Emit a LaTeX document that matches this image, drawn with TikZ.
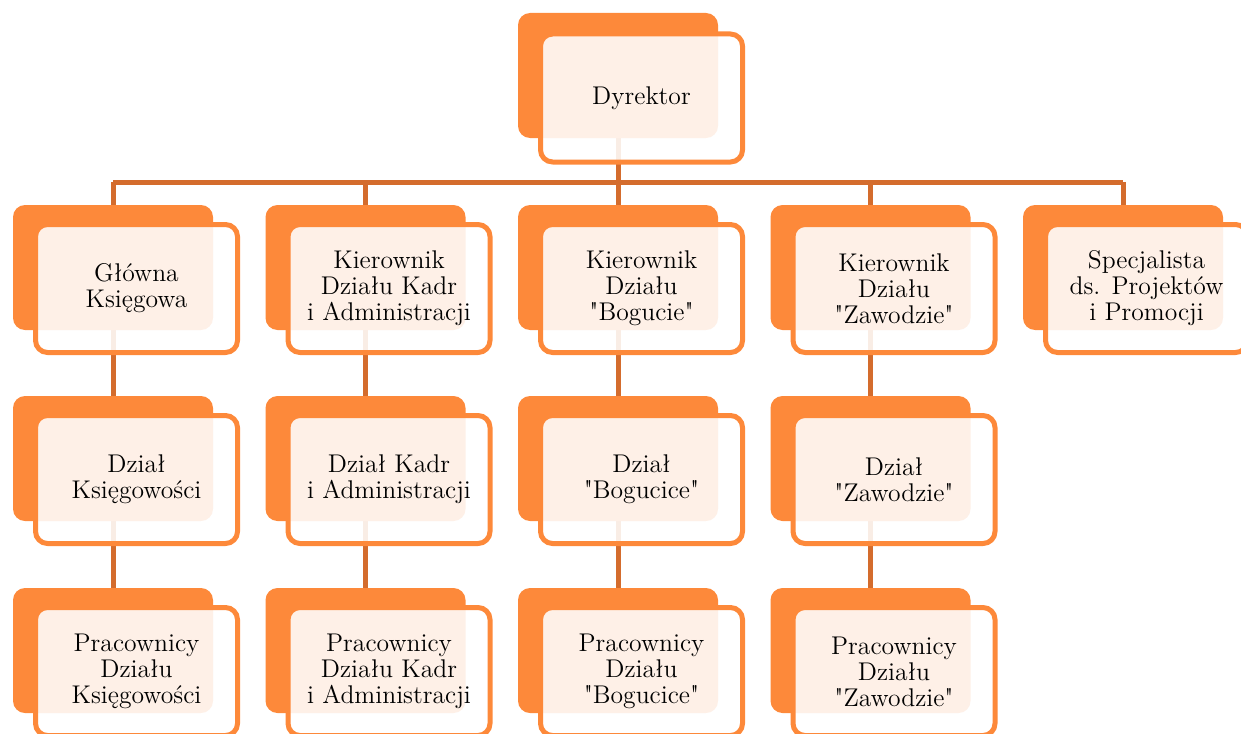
\documentclass[tikz,border=0pt]{standalone}
\usetikzlibrary{backgrounds}
\definecolor{boxorange}{RGB}{253,137,58}
\definecolor{linkorange}{RGB}{212,108,45}
\begin{document}
\begin{tikzpicture}[x=0.5pt, y=-0.5pt, line join=round,
	back/.style={fill=boxorange, rounded corners=6pt, minimum width=100pt, minimum height=62.5pt, inner sep=0pt},
	front/.style={draw=boxorange, line width=2.5pt, fill=white, fill opacity=0.88, text opacity=1, rounded corners=6pt,
		minimum width=101pt, minimum height=64pt, inner sep=0pt, align=center, font=\fontsize{12.8}{13}\selectfont},
	link/.style={draw=linkorange, line width=2.5pt}]
	\useasboundingbox (0,0) rectangle (1241,733);
	\clip (0,0) rectangle (1241,733);
	%%%%%%%%%%%%%%%%%%%%%%%%%%%%%%%%%
	\node[back] (bD) at (618,75.5) {};
	\node[back] (bG) at (113,267.5) {};
	\node[back] (bK) at (365.5,267.5) {};
	\node[back] (bB) at (618,267.5) {};
	\node[back] (bZ) at (870.5,267.5) {};
	\node[back] (bS) at (1123,267.5) {};
	\node[back] (bGD) at (113,458.5) {};
	\node[back] (bKD) at (365.5,458.5) {};
	\node[back] (bBD) at (618,458.5) {};
	\node[back] (bZD) at (870.5,458.5) {};
	\node[back] (bGP) at (113,650.5) {};
	\node[back] (bKP) at (365.5,650.5) {};
	\node[back] (bBP) at (618,650.5) {};
	\node[back] (bZP) at (870.5,650.5) {};
	%%%%%%%%%%%%%%%%%%%%%%%%%%%%%%%%%
	\node[front] (D) at (641.5,98) {Dyrektor};
	\node[front] (G) at (136.5,288.5) {Główna\\Księgowa};
	\node[front] (K) at (389,288.5) {Kierownik\\Działu Kadr\\i Administracji};
	\node[front] (B) at (641.5,288.5) {Kierownik\\Działu\\\textquotedbl Bogucie\textquotedbl};
	\node[front] (Z) at (894,288.5) {Kierownik\\Działu\\\textquotedbl Zawodzie\textquotedbl};
	\node[front] (S) at (1146.5,288.5) {Specjalista\\ds. Projektów\\i Promocji};
	\node[front] (GD) at (136.5,479.5) {Dział\\Księgowości};
	\node[front] (KD) at (389,479.5) {Dział Kadr\\i Administracji};
	\node[front] (BD) at (641.5,479.5) {Dział\\\textquotedbl Bogucice\textquotedbl};
	\node[front] (ZD) at (894,479.5) {Dział\\\textquotedbl Zawodzie\textquotedbl};
	\node[front] (GP) at (136.5,671.5) {Pracownicy\\Działu\\Księgowości};
	\node[front] (KP) at (389,671.5) {Pracownicy\\Działu Kadr\\i Administracji};
	\node[front] (BP) at (641.5,671.5) {Pracownicy\\Działu\\\textquotedbl Bogucice\textquotedbl};
	\node[front] (ZP) at (894,671.5) {Pracownicy\\Działu\\\textquotedbl Zawodzie\textquotedbl};
	%%%%%%%%%%%%%%%%%%%%%%%%%%%%%%%%%
	\begin{pgfonlayer}{background}
		\coordinate (busL) at (113,182);
		\coordinate (busR) at (1123,182);
		\draw[link] (busL) -- (busR);
		\draw[link] (bD) -- (bD |- busL);
		\draw[link] (bG) -- (bG |- busL);
		\draw[link] (bK) -- (bK |- busL);
		\draw[link] (bB) -- (bB |- busL);
		\draw[link] (bZ) -- (bZ |- busL);
		\draw[link] (bS) -- (bS |- busL);
		\draw[link] (bG) -- (bGD) -- (bGP);
		\draw[link] (bK) -- (bKD) -- (bKP);
		\draw[link] (bB) -- (bBD) -- (bBP);
		\draw[link] (bZ) -- (bZD) -- (bZP);
	\end{pgfonlayer}
\end{tikzpicture}
\end{document}
